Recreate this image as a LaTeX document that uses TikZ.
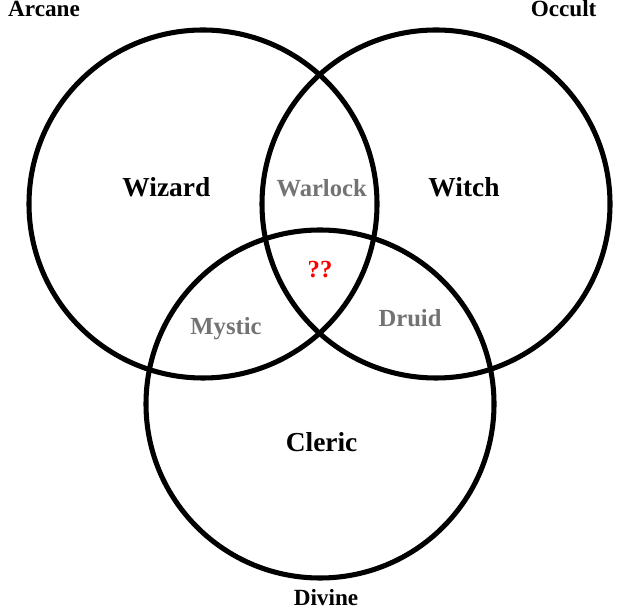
\documentclass[tikz,border=0pt]{standalone}
\usepackage{fontspec}
\setmainfont{Liberation Serif}
\usepackage{xcolor}
\usepackage{tikz}
\usetikzlibrary{positioning}

\tikzset{
    ring/.style={line width=3.6pt},
    mainname/.style={anchor=base, font=\fontsize{19.5}{22}\selectfont\bfseries},
    mixname/.style={anchor=base, text=black!55, font=\fontsize{17.5}{20}\selectfont\bfseries},
    cornername/.style={anchor=base, font=\fontsize{16.5}{19}\selectfont\bfseries}
}

\begin{document}
\begin{tikzpicture}
    \useasboundingbox (0,0) rectangle (16,15.275);

    % Circles
    \coordinate (A) at (5.075,10.175);
    \coordinate (O) at (10.9,10.175);
    \coordinate (D) at (8.0,5.175);
    \draw[ring] (A) circle (4.35);
    \draw[ring] (O) circle (4.35);
    \draw[ring] (D) circle (4.35);

    % Classes
    \node[mainname] (wizard) at (4.16,10.35) {Wizard};
    \node[mainname] (witch) at (11.6,10.35) {Witch};
    \node[mainname] (cleric) at (8.04,3.975) {Cleric};

    % Overlaps
    \node[mixname] (warlock) at (8.04,10.35) {Warlock};
    \node[mixname] (mystic) at (5.65,6.9) {Mystic};
    \node[mixname] (druid) at (10.25,7.1) {Druid};
    \node[mixname, text=red] (unknown) at (8.0,8.325) {??};

    % Sources
    \node[cornername] (arcane) at (1.1,14.85) {Arcane};
    \node[cornername] (occult) at (14.09,14.85) {Occult};
    \node[cornername] (divine) at (8.15,0.15) {Divine};
\end{tikzpicture}
\end{document}
